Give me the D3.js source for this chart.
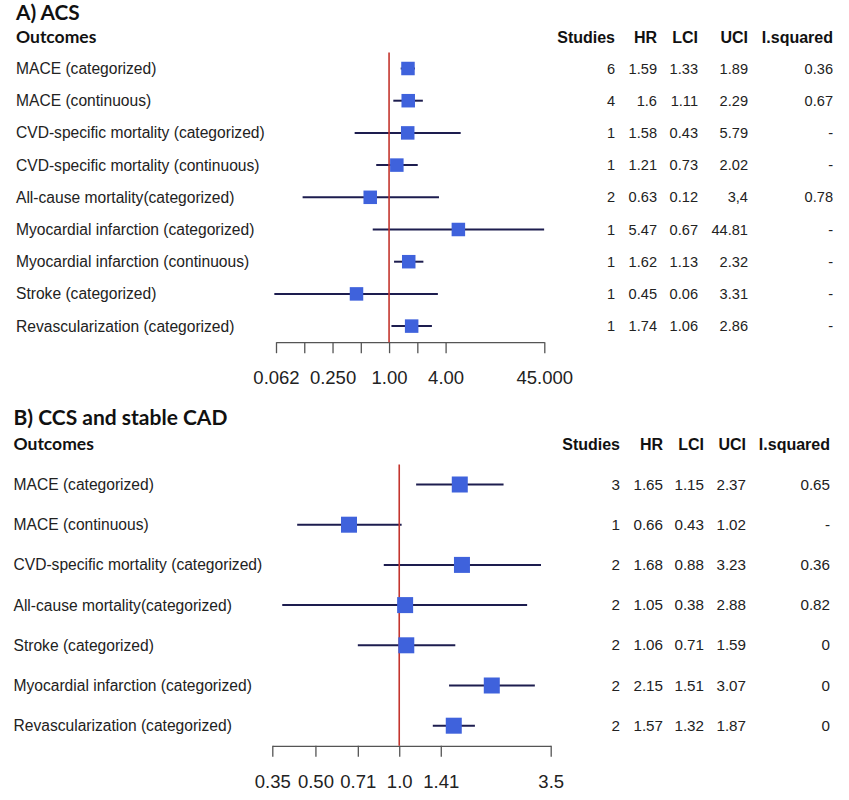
<!DOCTYPE html>
<html>
<head>
<meta charset="utf-8">
<script src="https://cdn.jsdelivr.net/npm/d3@7"></script>
<style>
  body { margin: 0; background: #fff; }
  text { font-family: "Liberation Sans", Arial, sans-serif; fill: #222; }
  .title, .outcomes { font-family: Lato, "Open Sans", sans-serif; font-weight: bold; fill: #111; }
  .head { font-weight: bold; fill: #111; }
</style>
</head>
<body>
<div id="figure"></div>
<script>
// A) ACS
var acsOutcomes = ["MACE (categorized)", "MACE (continuous)", "CVD-specific mortality (categorized)",
    "CVD-specific mortality (continuous)", "All-cause mortality(categorized)",
    "Myocardial infarction (categorized)", "Myocardial infarction (continuous)",
    "Stroke (categorized)", "Revascularization (categorized)"];
var acsStudies = ["6", "4", "1", "1", "2", "1", "1", "1", "1"];
var acsHR = ["1.59", "1.6", "1.58", "1.21", "0.63", "5.47", "1.62", "0.45", "1.74"];
var acsLCI = ["1.33", "1.11", "0.43", "0.73", "0.12", "0.67", "1.13", "0.06", "1.06"];
var acsUCI = ["1.89", "2.29", "5.79", "2.02", "3,4", "44.81", "2.32", "3.31", "2.86"];
var acsI2 = ["0.36", "0.67", "-", "-", "0.78", "-", "-", "-", "-"];
var acsTicks = [0.0625, 0.125, 0.25, 0.5, 1, 2, 4, 45];
var acsTickLabels = ["0.062", "", "0.250", "", "1.00", "", "4.00", "45.000"];

// B) CCS and stable CAD
var ccsOutcomes = ["MACE (categorized)", "MACE (continuous)", "CVD-specific mortality (categorized)",
    "All-cause mortality(categorized)", "Stroke (categorized)",
    "Myocardial infarction (categorized)", "Revascularization (categorized)"];
var ccsStudies = ["3", "1", "2", "2", "2", "2", "2"];
var ccsHR = ["1.65", "0.66", "1.68", "1.05", "1.06", "2.15", "1.57"];
var ccsLCI = ["1.15", "0.43", "0.88", "0.38", "0.71", "1.51", "1.32"];
var ccsUCI = ["2.37", "1.02", "3.23", "2.88", "1.59", "3.07", "1.87"];
var ccsI2 = ["0.65", "-", "0.36", "0.82", "0", "0", "0"];
var ccsTicks = [0.35, 0.5, 0.71, 1, 1.41, 3.5];
var ccsTickLabels = ["0.35", "0.50", "0.71", "1.0", "1.41", "3.5"];

function num(s) { return +String(s).replace(",", "."); }

var svg = d3.select("#figure").append("svg")
    .attr("width", 849)
    .attr("height", 800);

function forest(settings) {
    var g = svg.append("g");
    var n = settings.outcomes.length;

    var x = d3.scaleLog().base(2).domain(settings.domain).range(settings.xrange);
    var y = d3.scaleBand().domain(d3.range(n)).range(settings.yrange);
    var yc = function (i) { return y(i) + y.bandwidth() / 2; };

    g.append("text").attr("class", "title")
        .attr("x", settings.left).attr("y", settings.titleY)
        .style("font-size", settings.titleSize + "px")
        .text(settings.title);
    g.append("text").attr("class", "outcomes")
        .attr("x", settings.left).attr("y", settings.headY)
        .style("font-size", "17.5px")
        .text("Outcomes");

    // table columns, right aligned
    var cols = [
        { name: "Studies", vals: settings.studies },
        { name: "HR", vals: settings.hr },
        { name: "LCI", vals: settings.lci },
        { name: "UCI", vals: settings.uci },
        { name: "I.squared", vals: settings.i2 }
    ];
    cols.forEach(function (c, k) {
        g.append("text").attr("class", "head")
            .attr("x", settings.colX[k]).attr("y", settings.headY)
            .attr("text-anchor", "end")
            .style("font-size", "16px")
            .text(c.name);
        g.selectAll(null).data(c.vals).join("text")
            .attr("x", settings.colX[k])
            .attr("y", function (d, i) { return yc(i) + 5; })
            .attr("text-anchor", "end")
            .style("font-size", settings.fs + "px")
            .text(function (d) { return d; });
    });

    g.selectAll(null).data(settings.outcomes).join("text")
        .attr("x", settings.left)
        .attr("y", function (d, i) { return yc(i) + 5.5; })
        .style("font-size", "15.6px")
        .text(function (d) { return d; });

    // axis
    g.append("g")
        .attr("transform", "translate(0," + settings.yrange[1] + ")")
        .call(d3.axisBottom(x)
            .tickValues(settings.ticks)
            .tickFormat(function (d, i) { return settings.tickLabels[i]; })
            .tickSize(11)
            .tickSizeOuter(0)
            .tickPadding(18))
        .call(function (a) {
            a.select(".domain").attr("stroke", "#555").attr("stroke-width", 1.3);
            a.selectAll(".tick line").attr("stroke", "#555").attr("stroke-width", 1.3);
            a.selectAll(".tick text")
                .style("font-family", "'Liberation Sans', Arial, sans-serif")
                .style("font-size", "18.5px")
                .attr("fill", "#222");
        });

    // confidence intervals
    g.selectAll(null).data(d3.range(n)).join("line")
        .attr("x1", function (i) { return x(num(settings.lci[i])); })
        .attr("x2", function (i) { return x(num(settings.uci[i])); })
        .attr("y1", yc).attr("y2", yc)
        .attr("stroke", "#1d1d4f")
        .attr("stroke-width", 2);

    // reference line at 1
    g.append("line")
        .attr("x1", x(1)).attr("x2", x(1))
        .attr("y1", settings.yrange[0]).attr("y2", settings.yrange[1])
        .attr("stroke", "#c4352e")
        .attr("stroke-width", 1.6);

    // boxes
    var b = settings.box;
    g.selectAll(null).data(d3.range(n)).join("rect")
        .attr("x", function (i) { return x(num(settings.hr[i])) - b / 2; })
        .attr("y", function (i) { return yc(i) - b / 2; })
        .attr("width", b).attr("height", b)
        .attr("fill", "#3f62dc");
}

forest({
    title: "A) ACS", titleY: 20, titleSize: 20.8, headY: 43, left: 16, fs: 14.6,
    outcomes: acsOutcomes, studies: acsStudies, hr: acsHR, lci: acsLCI, uci: acsUCI, i2: acsI2,
    ticks: acsTicks, tickLabels: acsTickLabels,
    domain: [0.0625, 45], xrange: [276, 544.3], yrange: [52.4, 342.2],
    colX: [615, 657, 698, 748, 833], box: 13.5
});

forest({
    title: "B) CCS and stable CAD", titleY: 425, titleSize: 21, headY: 450, left: 13.5, fs: 15.2,
    outcomes: ccsOutcomes, studies: ccsStudies, hr: ccsHR, lci: ccsLCI, uci: ccsUCI, i2: ccsI2,
    ticks: ccsTicks, tickLabels: ccsTickLabels,
    domain: [0.35, 3.5], xrange: [272.3, 550.7], yrange: [464.4, 745.8],
    colX: [620, 663, 704, 746, 830], box: 16
});
</script>
</body>
</html>
